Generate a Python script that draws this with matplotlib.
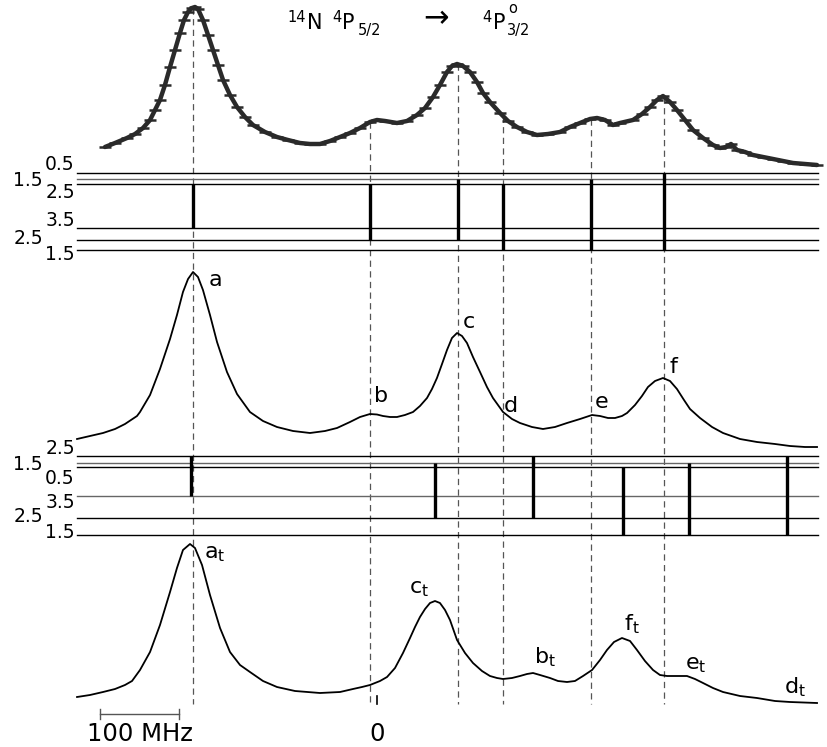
import numpy as np
import matplotlib
matplotlib.use("Agg")
import matplotlib.pyplot as plt

# ---------------- data (frequency in MHz, intensity in arbitrary units) -------------
# measured spectrum (top)
exp_freq = [-344.3, -331.6, -316.5, -306.3, -296.2, -287.3, -281.0, -274.7, -268.4,
            -262.0, -255.7, -249.4, -244.3, -239.2, -234.2, -230.4, -226.6, -220.3,
            -213.9, -207.6, -201.3, -194.9, -186.1, -177.2, -167.1, -157.0, -141.8,
            -126.6, -112.7, -97.5, -84.8, -72.2, -59.5, -46.8, -34.2, -21.5, -8.9,
            0.0, 10.1, 25.3, 38.0, 50.6, 60.8, 70.9, 79.7, 88.6, 94.9, 101.3, 108.9,
            117.7, 126.6, 134.2, 143.0, 155.7, 165.8, 177.2, 189.9, 202.5, 216.5,
            231.6, 244.3, 257.0, 269.6, 278.5, 288.6, 298.7, 307.6, 324.0, 335.4,
            345.6, 354.4, 362.0, 370.9, 379.7, 389.9, 400.0, 412.7, 425.3, 434.2,
            441.8, 448.1, 455.7, 465.8, 475.9, 488.6, 501.3, 513.9, 526.6, 541.8,
            557.0]
exp_int = [23, 27, 32, 36, 42, 50, 60, 70, 85, 103, 120, 137, 150, 158, 162, 163, 161,
           150, 135, 120, 105, 90, 75, 63, 53, 45, 38, 33, 30, 27, 26, 26, 29, 33, 37,
           42, 48, 50, 49, 47, 49, 55, 62, 73, 85, 98, 104, 106, 104, 98, 88, 77, 68,
           57, 49, 43, 38, 35, 36, 38, 43, 47, 51, 52, 50, 45, 47, 50, 56, 63, 70, 74,
           68, 60, 50, 40, 32, 25, 22, 23, 26, 20, 18, 15, 13, 11, 9, 7, 6, 5]

# fitted spectrum (middle)
fit_freq = [-379.7, -363.3, -346.8, -331.6, -319.0, -303.8, -300.0, -287.3, -274.7,
            -262.0, -253.2, -245.6, -239.2, -232.9, -226.6, -220.3, -211.4, -202.5,
            -189.9, -177.2, -160.8, -144.3, -126.6, -106.3, -84.8, -65.8, -50.6,
            -34.2, -21.5, -8.9, 0.0, 7.6, 16.5, 25.3, 35.4, 45.6, 54.4, 63.3, 69.6,
            75.9, 82.3, 88.6, 94.9, 101.3, 107.6, 113.9, 121.5, 130.4, 139.2, 146.8,
            159.5, 170.9, 181.0, 196.2, 210.1, 225.3, 240.5, 257.0, 272.2, 282.3,
            292.4, 301.3, 310.1, 316.5, 326.6, 335.4, 343.0, 351.9, 362.0, 370.9,
            379.7, 388.6, 396.2, 408.9, 424.1, 438.0, 459.5, 481.0, 503.8, 522.8,
            541.8, 557.0]
fit_int = [11, 14, 17, 21, 26, 34, 38, 55, 81, 111, 135, 158, 171, 178, 173, 160, 135,
           108, 78, 56, 38, 29, 23, 19, 17, 19, 22, 28, 33, 36, 35.5, 34, 33, 33, 35,
           38, 44, 52, 61, 72, 86, 100, 112, 117, 114, 107, 93, 78, 63, 52, 38, 31, 27,
           23, 21, 23, 27, 31, 35, 34, 32, 32, 34, 37, 45, 54, 63, 69, 72, 69, 61, 50,
           41, 32, 23, 17, 11, 8, 6, 4, 3, 3]

# theoretical spectrum (bottom)
th_freq = [-379.7, -363.3, -346.8, -331.6, -319.0, -310.1, -300.0, -287.3, -274.7,
           -262.0, -253.2, -245.6, -236.7, -230.4, -221.5, -211.4, -198.7, -186.1,
           -173.4, -160.8, -144.3, -126.6, -103.8, -72.2, -46.8, -30.4, -19.0, -8.9,
           3.8, 12.7, 22.8, 32.9, 41.8, 48.1, 54.4, 60.8, 67.1, 73.4, 79.7, 86.1,
           92.4, 101.3, 111.4, 121.5, 132.9, 143.0, 151.9, 159.5, 170.9, 181.0,
           189.9, 197.5, 206.3, 219.0, 229.1, 240.5, 250.6, 260.8, 272.2, 282.3,
           291.1, 300.0, 310.1, 320.3, 329.1, 339.2, 349.4, 358.2, 367.1, 379.7,
           392.4, 402.5, 412.7, 425.3, 438.0, 459.5, 481.0, 503.8, 522.8, 557.0]
th_int = [13, 15, 18, 21, 25, 29, 40, 58, 85, 118, 142, 160, 166, 162, 145, 115, 82,
          58, 45, 38, 29, 23, 19, 17, 18, 21, 23, 25, 29, 33, 42, 57, 72, 83, 93, 101,
          107, 109, 107, 100, 90, 70, 57, 47, 39, 34, 32, 31, 32, 34, 36, 37, 35, 32,
          29, 28, 29, 34, 40, 50, 60, 68, 72, 69, 60, 49, 40, 35, 34, 34, 34, 31, 27,
          22, 18, 14, 12, 9, 8, 7]

# measured components: label, frequency (MHz), upper F, lower F
exp_labels = ["a", "b", "c", "d", "e", "f"]
exp_pos = [-232.9, -8.9, 102.5, 159.5, 270.9, 363.3]
exp_Fup = [2.5, 2.5, 1.5, 2.5, 1.5, 0.5]
exp_Flo = [3.5, 2.5, 2.5, 1.5, 1.5, 1.5]

# theoretical components
th_labels = ["a", "c", "b", "f", "e", "d"]
th_pos = [-235.4, 73.4, 197.5, 311.4, 394.9, 519.0]
th_Fup = [2.5, 1.5, 2.5, 0.5, 1.5, 2.5]
th_Flo = [3.5, 2.5, 2.5, 1.5, 1.5, 1.5]

# ---------------- layout (figure pixels) ----------------
W, H = 827, 747
PX0 = 377.0           # pixel column of 0 MHz
SCALE = 79.0 / 100.0  # pixels per MHz


def fx(px):
    return (px - PX0) / SCALE


fig = plt.figure(figsize=(W / 100, H / 100), dpi=100)
ax = fig.add_axes([0, 0, 1, 1])
ax.set_xlim(fx(0), fx(W))
ax.set_ylim(H, 0)
ax.axis("off")

FS_LBL = 16
FS_LEV = 13.5

# ---- curves ----
base_top, base_mid, base_bot = 170, 450, 710
ey = [base_top - v for v in exp_int]
ax.plot(exp_freq, ey, color="#2a2a2a", lw=3.2, solid_joinstyle="round",
        solid_capstyle="round", zorder=3)
ax.plot(exp_freq, ey, ls="none", marker="_", ms=8, mew=1.8, color="#2a2a2a", zorder=3)

ax.plot(fit_freq, [base_mid - v for v in fit_int], color="black", lw=1.3,
        solid_joinstyle="round")
ax.plot(th_freq, [base_bot - v for v in th_int], color="black", lw=1.3,
        solid_joinstyle="round")

# ---- dashed guide lines ----
for p in exp_pos:
    ytop = np.interp(p, exp_freq, ey)
    ax.plot([p, p], [ytop, 704], color="#555555", lw=0.9, ls=(0, (5, 3.5)), zorder=1)

# ---- level diagrams ----
x_l, x_r = fx(77), fx(818)
top_up = {0.5: 173, 1.5: 179, 2.5: 184}
top_lo = {3.5: 228, 2.5: 240, 1.5: 250}
mid_up = {2.5: 456, 1.5: 463, 0.5: 467}
mid_lo = {3.5: 496, 2.5: 518, 1.5: 535}
gray_levels = [(top_up, 1.5), (mid_up, 1.5), (mid_lo, 3.5)]
for d in (top_up, top_lo, mid_up, mid_lo):
    for F, y in d.items():
        c = "#666666" if (d, F) in gray_levels else "black"
        ax.plot([x_l, x_r], [y, y], color=c, lw=1.0, zorder=2)

for p, fu, fl in zip(exp_pos, exp_Fup, exp_Flo):
    ax.plot([p, p], [top_up[fu], top_lo[fl]], color="black", lw=2.4,
            solid_capstyle="butt", zorder=4)
for p, fu, fl in zip(th_pos, th_Fup, th_Flo):
    ax.plot([p, p], [mid_up[fu], mid_lo[fl]], color="black", lw=2.4,
            solid_capstyle="butt", zorder=4)

# level labels
lev_txt = [("0.5", 60, 165), ("1.5", 28, 181), ("2.5", 60, 193),
           ("3.5", 60, 220), ("2.5", 28, 238), ("1.5", 60, 255),
           ("2.5", 60, 449), ("1.5", 28, 465), ("0.5", 60, 478),
           ("3.5", 60, 502), ("2.5", 28, 517), ("1.5", 60, 532)]
for s, px, py in lev_txt:
    ax.text(fx(px), py, s, fontsize=FS_LEV, ha="center", va="center")

# peak labels
mid_lbl_px = [(209, 286), (374, 402), (463, 328), (504, 412), (595, 408), (669, 373)]
for s, (px, py) in zip(exp_labels, mid_lbl_px):
    ax.text(fx(px), py, s, fontsize=FS_LBL, ha="left", va="baseline")
bot_lbl_px = [(204, 558), (409, 593), (534, 663), (624, 630), (685, 669), (784, 693)]
for s, (px, py) in zip(th_labels, bot_lbl_px):
    ax.text(fx(px), py, r"$\mathregular{%s_t}$" % s, fontsize=FS_LBL, ha="left",
            va="baseline")

# title
SUP = 10.5
ax.text(fx(287), 22, "14", fontsize=SUP, ha="left", va="baseline")
ax.text(fx(307), 29, "N", fontsize=15, ha="left", va="baseline")
ax.text(fx(332), 22, "4", fontsize=SUP, ha="left", va="baseline")
ax.text(fx(342), 29, "P", fontsize=15, ha="left", va="baseline")
ax.text(fx(358), 35, "5/2", fontsize=SUP, ha="left", va="baseline")
ax.text(fx(436), 19, "→", fontsize=22, ha="center", va="center")
ax.text(fx(482), 22, "4", fontsize=SUP, ha="left", va="baseline")
ax.text(fx(493), 29, "P", fontsize=15, ha="left", va="baseline")
ax.text(fx(508), 13, "o", fontsize=SUP, ha="left", va="baseline")
ax.text(fx(507), 35, "3/2", fontsize=SUP, ha="left", va="baseline")

# scale bar and zero mark
bar_len = 100  # MHz
bx0 = fx(100)
ax.plot([bx0, bx0 + bar_len], [714, 714], color="#555555", lw=1.0)
for xx in (bx0, bx0 + bar_len):
    ax.plot([xx, xx], [709, 719], color="#555555", lw=1.0)
ax.text(bx0 + bar_len / 2 + 1, 734, "100 MHz", fontsize=17.5, ha="center", va="center")
ax.plot([0, 0], [696, 704], color="black", lw=1.2)
ax.text(0, 734, "0", fontsize=17.5, ha="center", va="center")

fig.savefig("out.png", dpi=100)
